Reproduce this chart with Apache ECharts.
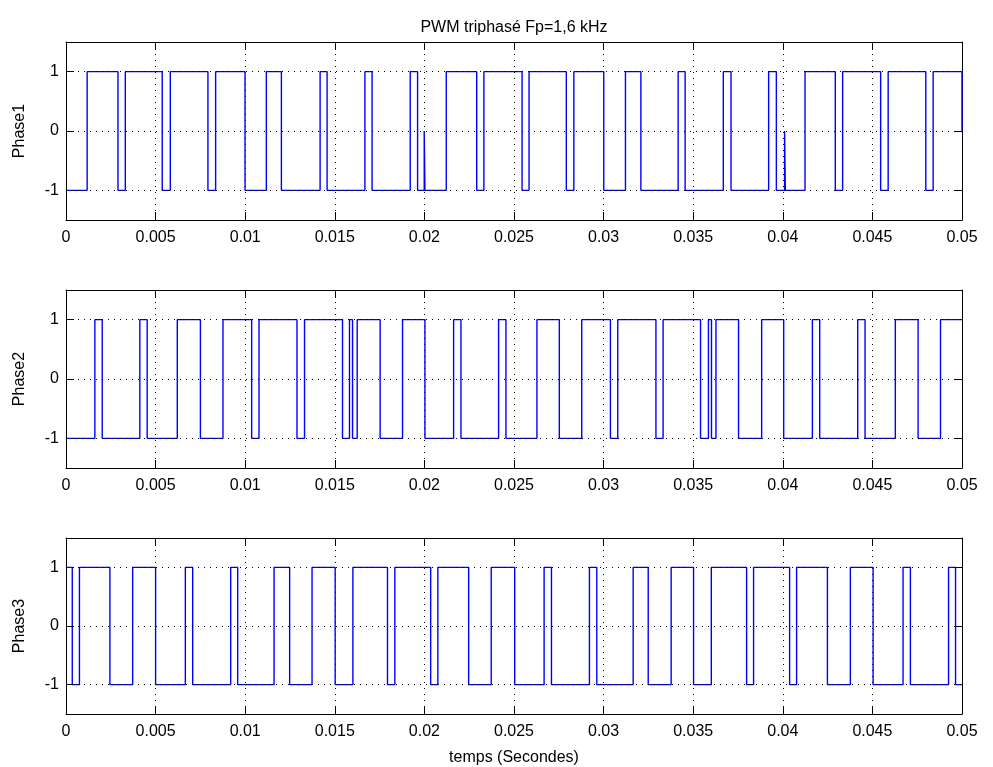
<!DOCTYPE html>
<html>
<head>
<meta charset="utf-8">
<script src="https://cdn.jsdelivr.net/npm/echarts@6/dist/echarts.min.js"></script>
<style>
  html, body { margin: 0; padding: 0; background: #fff; }
  #chart { width: 993px; height: 767px; }
</style>
</head>
<body>
<div id="chart"></div>
<script>
// Switching instants (s) of each inverter leg and the level held after each instant.
const phase1Times = [0, 0.00118, 0.00290, 0.00331, 0.00537, 0.00582, 0.00792, 0.00835, 0.00999,
  0.01118, 0.01202, 0.01418, 0.01457, 0.01668, 0.01708, 0.01921, 0.01962, 0.01999, 0.02003,
  0.02122, 0.02292, 0.02332, 0.02545, 0.02584, 0.02792, 0.02834, 0.03001, 0.03122, 0.03208,
  0.03416, 0.03455, 0.03668, 0.03711, 0.03921, 0.03964, 0.04010, 0.04014, 0.04124, 0.04293,
  0.04334, 0.04546, 0.04588, 0.04798, 0.04839, 0.05];
const phase1Levels = [-1, 1, -1, 1, -1, 1, -1, 1, -1,
  1, -1, 1, -1, 1, -1, 1, -1, 0, -1,
  1, -1, 1, -1, 1, -1, 1, -1, 1, -1,
  1, -1, 1, -1, 1, -1, 0, -1, 1, -1,
  1, -1, 1, -1, 1, 0];

const phase2Times = [0, 0.00161, 0.00202, 0.00412, 0.00453, 0.00621, 0.00750, 0.00876, 0.01036,
  0.01077, 0.01289, 0.01331, 0.01543, 0.01582, 0.01599, 0.01625, 0.01753, 0.01878, 0.02003,
  0.02163, 0.02204, 0.02414, 0.02455, 0.02628, 0.02753, 0.02878, 0.03038, 0.03079, 0.03292,
  0.03332, 0.03541, 0.03585, 0.03602, 0.03627, 0.03753, 0.03882, 0.04005, 0.04165, 0.04206,
  0.04418, 0.04459, 0.04628, 0.04755, 0.04880, 0.05];
const phase2Levels = [-1, 1, -1, 1, -1, 1, -1, 1, -1,
  1, -1, 1, -1, 1, -1, 1, -1, 1, -1,
  1, -1, 1, -1, 1, -1, 1, -1, 1, -1,
  1, -1, 1, -1, 1, -1, 1, -1, 1, -1,
  1, -1, 1, -1, 1, 1];

const phase3Times = [0, 0.00035, 0.00075, 0.00245, 0.00372, 0.00500, 0.00666, 0.00707, 0.00919,
  0.00958, 0.01161, 0.01248, 0.01373, 0.01502, 0.01601, 0.01794, 0.01835, 0.02035, 0.02075,
  0.02247, 0.02373, 0.02504, 0.02668, 0.02709, 0.02921, 0.02962, 0.03165, 0.03249, 0.03377,
  0.03502, 0.03601, 0.03798, 0.03837, 0.04038, 0.04077, 0.04249, 0.04377, 0.04504, 0.04671,
  0.04712, 0.04925, 0.04964, 0.05];
const phase3Levels = [1, -1, 1, -1, 1, -1, 1, -1, 1,
  -1, 1, -1, 1, -1, 1, -1, 1, -1, 1,
  -1, 1, -1, 1, -1, 1, -1, 1, -1, 1,
  -1, 1, -1, 1, -1, 1, -1, 1, -1, 1,
  -1, 1, -1, -1];

const panelNames = ['Phase1', 'Phase2', 'Phase3'];
const yTicks = [-1, 0, 1];
const xMin = 0, xMax = 0.05, xStep = 0.005;
const titleText = 'PWM triphasé Fp=1,6 kHz';
const xAxisTitle = 'temps (Secondes)';

const phases = [
  { times: phase1Times, levels: phase1Levels },
  { times: phase2Times, levels: phase2Levels },
  { times: phase3Times, levels: phase3Levels }
];

const FONT = '"Liberation Sans", Arial, Helvetica, sans-serif';
const FS = 16;
const dotted = [1, 5];
const panelTops = [42, 290, 538];
const panelHeight = 178;

const grids = [], xAxes = [], yAxes = [], series = [];

phases.forEach((p, i) => {
  grids.push({ left: 66, right: 31, top: panelTops[i], height: panelHeight, containLabel: false });

  const baseX = {
    gridIndex: i, type: 'value', min: xMin, max: xMax, interval: xStep,
    axisLine: { show: true, onZero: false, lineStyle: { color: '#000', width: 1 } },
    axisTick: { show: true, inside: true, length: 8, lineStyle: { color: '#000' } }
  };
  xAxes.push(Object.assign({}, baseX, {
    position: 'bottom',
    axisLabel: {
      show: true, color: '#000', fontFamily: FONT, fontSize: FS, margin: 10,
      formatter: v => String(+v.toFixed(4))
    },
    splitLine: { show: true, lineStyle: { color: '#000', type: dotted, width: 1 } },
    name: i === 2 ? xAxisTitle : '',
    nameLocation: 'middle', nameGap: 36,
    nameTextStyle: { color: '#000', fontFamily: FONT, fontSize: FS }
  }));
  xAxes.push(Object.assign({}, baseX, {
    position: 'top',
    axisLabel: { show: false },
    splitLine: { show: false },
    name: i === 0 ? titleText : '',
    nameLocation: 'middle', nameGap: 6,
    nameTextStyle: { color: '#000', fontFamily: FONT, fontSize: FS }
  }));

  const baseY = {
    gridIndex: i, type: 'value', min: -1.5, max: 1.5,
    axisLine: { show: true, onZero: false, lineStyle: { color: '#000', width: 1 } },
    axisTick: { show: true, inside: true, length: 8, customValues: yTicks, lineStyle: { color: '#000' } },
    splitLine: { show: false }
  };
  yAxes.push(Object.assign({}, baseY, {
    position: 'left',
    axisLabel: { show: true, customValues: yTicks, color: '#000', fontFamily: FONT, fontSize: FS, margin: 7 },
    name: panelNames[i], nameLocation: 'middle', nameGap: 38, nameRotate: 90,
    nameTextStyle: { color: '#000', fontFamily: FONT, fontSize: FS }
  }));
  yAxes.push(Object.assign({}, baseY, {
    position: 'right',
    axisLabel: { show: false }
  }));

  series.push({
    type: 'line',
    xAxisIndex: 2 * i,
    yAxisIndex: 2 * i,
    step: 'end',
    showSymbol: false,
    symbol: 'none',
    data: p.times.map((t, k) => [t, p.levels[k]]),
    lineStyle: { color: '#0000ff', width: 1.4 },
    markLine: {
      silent: true,
      symbol: ['none', 'none'],
      label: { show: false },
      lineStyle: { color: '#000', type: dotted, width: 1 },
      data: yTicks.map(v => ({ yAxis: v }))
    },
    z: 3
  });
});

const chart = echarts.init(document.getElementById('chart'), null, { renderer: 'canvas' });
chart.setOption({
  animation: false,
  backgroundColor: '#fff',
  grid: grids,
  xAxis: xAxes,
  yAxis: yAxes,
  series: series
});
</script>
</body>
</html>
